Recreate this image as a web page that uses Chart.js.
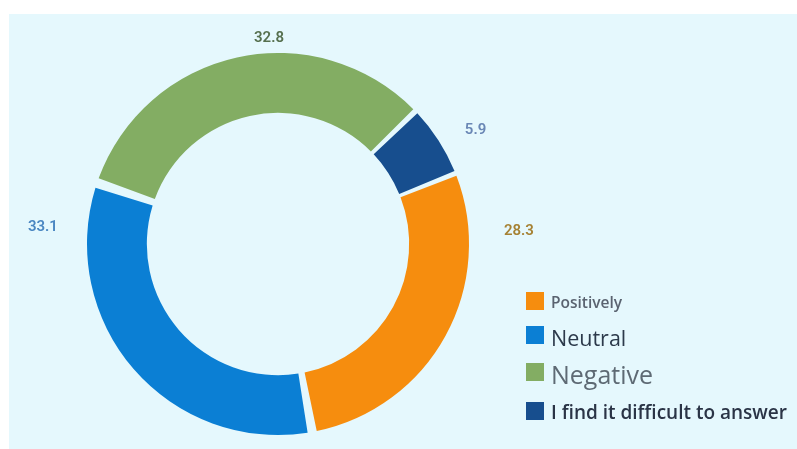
<!DOCTYPE html>
<html lang="en">
<head>
  <meta charset="UTF-8">
  <title>Attitude survey</title>
  <script src="https://cdn.jsdelivr.net/npm/chart.js"></script>
  <style>
    body { margin: 0; background: #fff; }
    #wrap { position: relative; width: 797px; height: 449px; }
    #legend { position: absolute; left: 526px; top: 292px; font-family: "Open Sans", sans-serif; }
    .row { display: flex; align-items: center; white-space: nowrap; }
    .sw { width: 18px; height: 18px; margin-right: 7px; flex: none; }
  </style>
</head>
<body>
<div id="wrap">
  <canvas id="donut" width="797" height="449"></canvas>
  <div id="legend"></div>
</div>

<script>
  const labels = ['Positively', 'Neutral', 'Negative', 'I find it difficult to answer'];
  const shares = [28.3, 33.1, 32.8, 5.9];
  const colors = ['#f68d0e', '#0b7fd4', '#83ad63', '#174e8e'];

  // value text colours and where each value sits (degrees from top, times outer radius)
  const valueColors = ['#a68234', '#4b87c2', '#56704f', '#6a87b5'];
  const valueAngles = [87, 274, 357.5, 60];
  const valueDist = [1.29, 1.26, 1.1, 1.22];

  // legend rows look different from one another
  const legendFonts = [
    { size: 15.5, weight: 600, color: '#5a6370', gap: 34, shift: 1 },
    { size: 21.5, weight: 500, color: '#2c3a4b', gap: 37, shift: 2 },
    { size: 25, weight: 500, color: '#5e6a74', gap: 39, shift: 2 },
    { size: 19, weight: 600, color: '#2a3446', gap: 0, shift: 1 }
  ];

  const panel = {
    id: 'panel',
    beforeDraw(chart) {
      const c = chart.ctx;
      c.save();
      c.fillStyle = '#e5f8fd';
      c.fillRect(9, 14, chart.width - 9, chart.height - 14);
      c.restore();
    }
  };

  const values = {
    id: 'values',
    afterDatasetsDraw(chart) {
      const c = chart.ctx;
      const arc = chart.getDatasetMeta(0).data[0];
      const cx = arc.x, cy = arc.y, r = arc.outerRadius;
      c.save();
      c.font = '600 15px Roboto, sans-serif';
      c.textAlign = 'center';
      c.textBaseline = 'middle';
      shares.forEach((v, i) => {
        const a = valueAngles[i] * Math.PI / 180;
        const d = r * valueDist[i];
        c.fillStyle = valueColors[i];
        c.fillText(v.toFixed(1), cx + d * Math.sin(a), cy - d * Math.cos(a));
      });
      c.restore();
    }
  };

  new Chart(document.getElementById('donut').getContext('2d'), {
    type: 'doughnut',
    data: {
      labels: labels,
      datasets: [{
        data: shares,
        backgroundColor: colors,
        borderWidth: 0,
        spacing: 8
      }]
    },
    options: {
      responsive: false,
      animation: false,
      cutout: '68%',
      rotation: 67.8,
      layout: { padding: { left: 87, top: 53, right: 328, bottom: 14 } },
      plugins: {
        legend: { display: false },
        tooltip: { enabled: false }
      }
    },
    plugins: [panel, values]
  });

  // legend built from the same arrays
  const legend = document.getElementById('legend');
  labels.forEach((name, i) => {
    const f = legendFonts[i];
    const row = document.createElement('div');
    row.className = 'row';
    row.style.marginBottom = (f.gap - 18) + 'px';
    row.style.height = '18px';
    const sw = document.createElement('span');
    sw.className = 'sw';
    sw.style.background = colors[i];
    const txt = document.createElement('span');
    txt.textContent = name;
    txt.style.fontSize = f.size + 'px';
    txt.style.fontWeight = f.weight;
    txt.style.color = f.color;
    txt.style.position = 'relative';
    txt.style.top = f.shift + 'px';
    row.appendChild(sw);
    row.appendChild(txt);
    legend.appendChild(row);
  });
</script>
</body>
</html>
